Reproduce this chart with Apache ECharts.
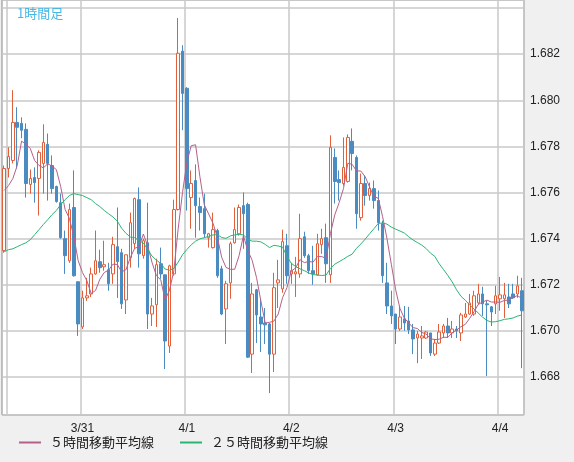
<!DOCTYPE html>
<html><head><meta charset="utf-8">
<script src="https://cdn.jsdelivr.net/npm/echarts@6/dist/echarts.min.js"></script>
<style>html,body{margin:0;padding:0;background:#f0f0f0}#c{width:574px;height:462px}</style>
</head><body><div id="c"></div>
<script>
// OHLC per hour: [open, close, low, high]
const ohlc = [
[1.67348,1.67704,1.67339,1.67717],[1.67704,1.67756,1.67665,1.67796],[1.67739,1.67904,1.67726,1.68044],[1.67904,1.67883,1.67704,1.67970],
[1.67900,1.67870,1.67835,1.67926],[1.67874,1.67639,1.67578,1.67900],[1.67635,1.67661,1.67595,1.67700],[1.67665,1.67643,1.67556,1.67709],
[1.67661,1.67774,1.67500,1.67783],[1.67726,1.67817,1.67595,1.67896],[1.67809,1.67726,1.67565,1.67856],[1.67717,1.67617,1.67595,1.67761],
[1.67626,1.67561,1.67556,1.67630],[1.67556,1.67404,1.67400,1.67595],[1.67400,1.67326,1.67247,1.67435],[1.67304,1.67526,1.67295,1.67552],
[1.67535,1.67239,1.67235,1.67696],[1.67213,1.67030,1.66978,1.67213],[1.67017,1.67143,1.67008,1.67174],[1.67143,1.67152,1.67130,1.67230],
[1.67160,1.67247,1.67147,1.67274],[1.67247,1.67304,1.67243,1.67435],[1.67300,1.67274,1.67252,1.67352],[1.67278,1.67287,1.67261,1.67391],
[1.67265,1.67204,1.67174,1.67295],[1.67247,1.67374,1.67204,1.67408],[1.67365,1.67300,1.67143,1.67535],[1.67339,1.67117,1.67095,1.67356],
[1.67134,1.67330,1.67073,1.67330],[1.67317,1.67469,1.67274,1.67513],[1.67378,1.67574,1.67356,1.67578],[1.67569,1.67334,1.67274,1.67622],
[1.67326,1.67391,1.67313,1.67400],[1.67382,1.67073,1.67008,1.67556],[1.67073,1.67108,1.67021,1.67143],[1.67113,1.67287,1.67017,1.67313],
[1.67291,1.67247,1.67226,1.67361],[1.67243,1.66956,1.66834,1.67243],[1.66934,1.67282,1.66904,1.67287],[1.67247,1.67526,1.67239,1.67569],
[1.67526,1.68204,1.67522,1.68357],[1.68213,1.68030,1.67870,1.68239],[1.68052,1.67617,1.67522,1.68057],[1.67578,1.67639,1.67443,1.67696],
[1.67652,1.67543,1.67404,1.67722],[1.67539,1.67513,1.67435,1.67578],[1.67530,1.67421,1.67404,1.67595],[1.67404,1.67421,1.67361,1.67425],
[1.67361,1.67439,1.67357,1.67513],[1.67435,1.67239,1.67230,1.67443],[1.67269,1.67073,1.67068,1.67282],[1.67095,1.67204,1.66943,1.67217],
[1.67208,1.67378,1.67139,1.67387],[1.67382,1.67439,1.67378,1.67535],[1.67421,1.67535,1.67413,1.67548],[1.67543,1.67508,1.67356,1.67600],
[1.67548,1.66886,1.66882,1.67556],[1.66899,1.67160,1.66817,1.67208],[1.67178,1.67069,1.66947,1.67182],[1.67060,1.67030,1.66908,1.67139],
[1.67034,1.67026,1.66943,1.67099],[1.67030,1.66899,1.66730,1.67034],[1.66899,1.67187,1.66821,1.67252],[1.67208,1.67221,1.67099,1.67308],
[1.67182,1.67387,1.67165,1.67439],[1.67369,1.67239,1.67204,1.67421],[1.67247,1.67261,1.67204,1.67295],[1.67247,1.67256,1.67147,1.67321],
[1.67247,1.67400,1.67230,1.67508],[1.67408,1.67326,1.67317,1.67430],[1.67326,1.67261,1.67247,1.67334],[1.67261,1.67247,1.67200,1.67369],
[1.67243,1.67378,1.67240,1.67421],[1.67374,1.67400,1.67334,1.67443],[1.67404,1.67291,1.67208,1.67465],[1.67243,1.67796,1.67208,1.67848],
[1.67752,1.67648,1.67552,1.67791],[1.67656,1.67643,1.67565,1.67696],[1.67639,1.67709,1.67630,1.67839],[1.67648,1.67839,1.67643,1.67852],
[1.67822,1.67769,1.67696,1.67878],[1.67752,1.67508,1.67443,1.67761],[1.67491,1.67639,1.67478,1.67682],[1.67639,1.67587,1.67543,1.67674],
[1.67587,1.67617,1.67565,1.67643],[1.67617,1.67565,1.67530,1.67652],[1.67565,1.67469,1.67435,1.67609],[1.67465,1.67239,1.67208,1.67478],
[1.67208,1.67108,1.67073,1.67295],[1.67108,1.67065,1.67030,1.67174],[1.67073,1.67008,1.66943,1.67073],[1.67008,1.67060,1.67000,1.67108],
[1.67052,1.67034,1.67000,1.67108],[1.67043,1.67004,1.66986,1.67104],[1.67004,1.66965,1.66899,1.67030],[1.66969,1.66986,1.66860,1.67000],
[1.66969,1.66978,1.66878,1.67021],[1.66969,1.66995,1.66965,1.67000],[1.66991,1.66904,1.66891,1.66991],[1.66899,1.66947,1.66891,1.66965],
[1.66947,1.66995,1.66943,1.67030],[1.66991,1.67021,1.66969,1.67030],[1.67021,1.66991,1.66969,1.67056],[1.66991,1.67008,1.66969,1.67043],
[1.67008,1.67000,1.66969,1.67021],[1.66991,1.67069,1.66956,1.67078],[1.67060,1.67073,1.67056,1.67121],[1.67073,1.67121,1.67070,1.67160],
[1.67073,1.67152,1.67065,1.67174],[1.67121,1.67160,1.67113,1.67204],[1.67160,1.67117,1.67065,1.67191],[1.67117,1.67113,1.66804,1.67130],
[1.67104,1.67082,1.67021,1.67108],[1.67117,1.67152,1.67073,1.67195],[1.67139,1.67156,1.67087,1.67234],[1.67139,1.67156,1.67056,1.67208],
[1.67147,1.67117,1.67099,1.67204],[1.67160,1.67143,1.67139,1.67204],[1.67160,1.67195,1.67143,1.67239],[1.67174,1.67087,1.66838,1.67230]
];
// moving-average values before enough hourly data is on screen
const ma5Head = [1.67609,1.67630,1.67661,1.67717];
const ma25Head = [1.67343,1.67352,1.67356,1.67365,1.67374,1.67382,1.67395,1.67417,1.67439,1.67461,1.67482,1.67504,
1.67522,1.67548,1.67569,1.67587,1.67595,1.67591,1.67587,1.67578,1.67569,1.67552,1.67539,1.67522];
const dayLabels = {18:'3/31',42:'4/1',66:'4/2',90:'4/3',114:'4/4'};
const yTicks = {min:1.66635, max:1.68435, labelMin:1.668, labelMax:1.682};

const closes = ohlc.map(d=>d[1]);
function ma(n, head){
  return closes.map((c,i)=>{
    if(i<head.length) return head[i];
    let s=0; for(let k=i-n+1;k<=i;k++) s+=closes[k]; return +(s/n).toFixed(5);
  });
}
const cats = ohlc.map((_,i)=>String(i));
const chart = echarts.init(document.getElementById('c'));
chart.setOption({
  animation:false,
  backgroundColor:'#f0f0f0',
  title:{text:'1時間足',left:12,top:2,textStyle:{color:'#45b8e6',fontSize:13,fontWeight:'normal',fontFamily:'Noto Sans CJK JP'}},
  legend:{bottom:8,left:14,itemWidth:22,itemHeight:2,itemGap:26,icon:'rect',
    textStyle:{fontSize:13,color:'#222',fontFamily:'Noto Sans CJK JP',padding:[0,0,0,4]},
    data:['５時間移動平均線','２５時間移動平均線']},
  grid:{left:2,right:50,top:0,bottom:47,show:true,backgroundColor:'#fff',borderColor:'#888',borderWidth:1},
  xAxis:{type:'category',data:cats,boundaryGap:true,
    axisLine:{show:false},axisTick:{show:false},
    axisLabel:{interval:0,formatter:(v,i)=>dayLabels[i]||'',color:'#222',fontSize:12,margin:8},
    splitLine:{show:true,interval:(i)=>i===1||(i-18)%24===0,lineStyle:{color:'#c8c8c8',width:1.5}}},
  yAxis:{type:'value',position:'right',min:yTicks.min,max:yTicks.max,splitNumber:9,scale:true,
    axisLine:{show:false},axisTick:{show:false},
    axisLabel:{showMinLabel:false,showMaxLabel:false,
      formatter:v=>(v<yTicks.labelMin-1e-6||v>yTicks.labelMax+1e-6)?'':v.toFixed(3),color:'#222',fontSize:12,margin:6},
    splitLine:{lineStyle:{color:'#c8c8c8',width:1.5}}},
  series:[
    {type:'candlestick',data:ohlc,barWidth:3,
      itemStyle:{color:'#ffffff',color0:'#4a8bc2',borderColor:'#e0603c',borderColor0:'#4a8bc2',borderWidth:1}},
    {name:'５時間移動平均線',type:'line',data:ma(5,ma5Head),symbol:'none',lineStyle:{color:'#b5608a',width:1},itemStyle:{color:'#b5608a'}},
    {name:'２５時間移動平均線',type:'line',data:ma(25,ma25Head),symbol:'none',lineStyle:{color:'#2bb573',width:1},itemStyle:{color:'#2bb573'}}
  ]
});
</script></body></html>
